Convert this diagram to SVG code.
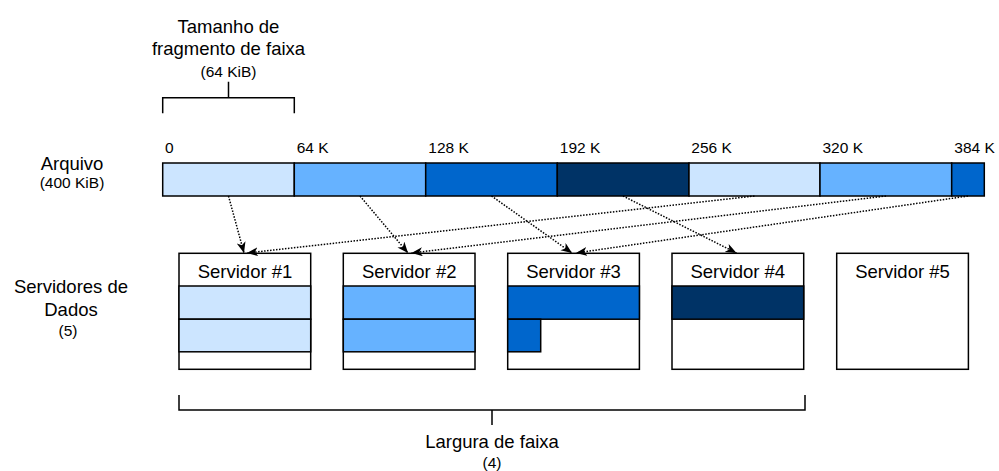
<svg xmlns="http://www.w3.org/2000/svg" width="999" height="471" viewBox="0 0 999 471">
  <style>
    text { font-family: "Liberation Sans", Arial, sans-serif; fill: #000; }
    .big { font-size: 18.5px; text-anchor: middle; }
    .small { font-size: 15.5px; text-anchor: middle; }
    .tick { font-size: 15.5px; text-anchor: start; }
    .box { stroke: #000; stroke-width: 1.5; }
    .c1 { fill: #cce5ff; }
    .c2 { fill: #66b2ff; }
    .c3 { fill: #0066cc; }
    .c4 { fill: #003366; }
    .white { fill: #fff; }
    .bracket { fill: none; stroke: #000; stroke-width: 1.5; }
    .flow { fill: none; stroke: #000; stroke-width: 1.5; stroke-dasharray: 1.5 1.5; marker-end: url(#arrow); }
  </style>
  <defs>
    <marker id="arrow" markerUnits="userSpaceOnUse" markerWidth="12" markerHeight="10" refX="11" refY="4.5" orient="auto">
      <path d="M0,0 L11,4.5 L0,9 L3,4.5 Z" fill="#000"/>
    </marker>
  </defs>

  <rect width="999" height="471" fill="#fff"/>

  <!-- stripe chunk size bracket -->
  <g id="chunk-size">
    <text class="big" x="228.5" y="33">Tamanho de</text>
    <text class="big" x="228.5" y="55">fragmento de faixa</text>
    <text class="small" x="228.5" y="77">(64 KiB)</text>
    <path class="bracket" d="M162.7,113.3 V97.7 H294.3 V113.3 M228.5,97.7 V81.7"/>
  </g>

  <!-- file label -->
  <g id="file-label">
    <text class="big" x="72" y="170">Arquivo</text>
    <text class="small" x="72" y="188">(400 KiB)</text>
  </g>

  <!-- file offsets -->
  <g id="offsets">
    <text class="tick" x="165" y="153">0</text>
    <text class="tick" x="296.7" y="153">64 K</text>
    <text class="tick" x="428.3" y="153">128 K</text>
    <text class="tick" x="559.8" y="153">192 K</text>
    <text class="tick" x="691.3" y="153">256 K</text>
    <text class="tick" x="822.5" y="153">320 K</text>
    <text class="tick" x="954.3" y="153">384 K</text>
  </g>

  <!-- file split into 64 KiB chunks -->
  <g id="file">
    <rect class="box c1" x="162.7" y="163" width="131.6" height="33"/>
    <rect class="box c2" x="294.3" y="163" width="131.4" height="33"/>
    <rect class="box c3" x="425.7" y="163" width="131.6" height="33"/>
    <rect class="box c4" x="557.3" y="163" width="131.7" height="33"/>
    <rect class="box c1" x="689" y="163" width="131" height="33"/>
    <rect class="box c2" x="820" y="163" width="131.7" height="33"/>
    <rect class="box c3" x="951.7" y="163" width="32.6" height="33"/>
  </g>

  <!-- data servers label -->
  <g id="servers-label">
    <text class="big" x="71" y="293">Servidores de</text>
    <text class="big" x="71" y="316">Dados</text>
    <text class="small" x="68" y="336">(5)</text>
  </g>

  <g id="server1">
    <rect class="box white" x="179" y="253.3" width="131.7" height="116"/>
    <rect class="box c1" x="179" y="286" width="131.7" height="33.2"/>
    <rect class="box c1" x="179" y="319.2" width="131.7" height="32.6"/>
    <text class="big" x="245" y="277.5">Servidor #1</text>
  </g>

  <g id="server2">
    <rect class="box white" x="343.3" y="253.3" width="131.7" height="116"/>
    <rect class="box c2" x="343.3" y="286" width="131.7" height="33.2"/>
    <rect class="box c2" x="343.3" y="319.2" width="131.7" height="32.6"/>
    <text class="big" x="409.2" y="277.5">Servidor #2</text>
  </g>

  <g id="server3">
    <rect class="box white" x="507.7" y="253.3" width="131.7" height="116"/>
    <rect class="box c3" x="507.7" y="286" width="131.7" height="33.2"/>
    <rect class="box c3" x="507.7" y="319.2" width="33" height="32.6"/>
    <text class="big" x="573.5" y="277.5">Servidor #3</text>
  </g>

  <g id="server4">
    <rect class="box white" x="672" y="253.3" width="131.7" height="116"/>
    <rect class="box c4" x="672" y="286" width="131.7" height="33.2"/>
    <text class="big" x="737.8" y="277.5">Servidor #4</text>
  </g>

  <g id="server5">
    <rect class="box white" x="836.7" y="253.3" width="131.7" height="116"/>
    <text class="big" x="902.5" y="277.5">Servidor #5</text>
  </g>

  <!-- chunk placement -->
  <g id="connectors">
    <path class="flow" d="M228.5,196 L244,253"/>
    <path class="flow" d="M360,196 L408,253"/>
    <path class="flow" d="M491.5,196 L572,253"/>
    <path class="flow" d="M623,196 L736.5,253"/>
    <path class="flow" d="M754.5,196 L247,253"/>
    <path class="flow" d="M886,196 L411.5,253"/>
    <path class="flow" d="M968,196 L576,253"/>
  </g>

  <!-- stripe width bracket -->
  <g id="stripe-width">
    <path class="bracket" d="M179,395 V410 H805 V395 M492,410 V425"/>
    <text class="big" x="492" y="448">Largura de faixa</text>
    <text class="small" x="492" y="468">(4)</text>
  </g>
</svg>
